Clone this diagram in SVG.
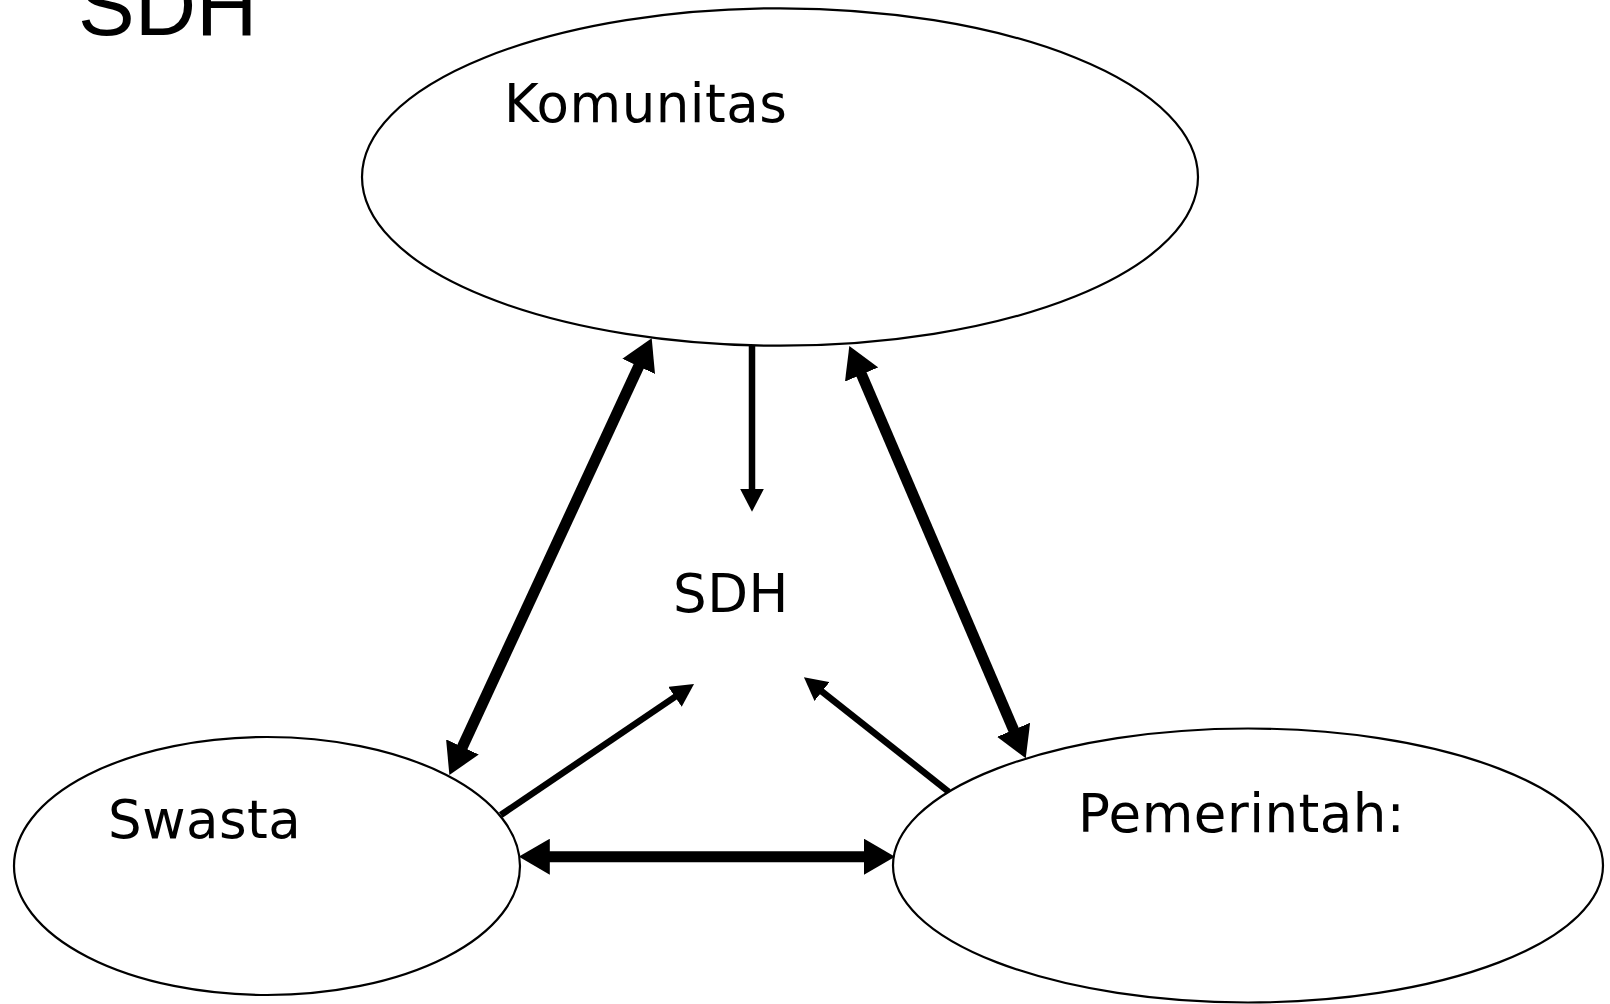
<svg xmlns="http://www.w3.org/2000/svg" width="1610" height="1004" viewBox="0 0 1610 1004">
  <style>
    .node { fill: #ffffff; stroke: #000000; stroke-width: 2.2; }
    .label { font-family: "DejaVu Sans", Verdana, sans-serif; font-size: 53px; letter-spacing: 0.5px; fill: #000000; }
    .title { font-family: "Liberation Sans", Arial, sans-serif; font-size: 85px; fill: #000000; }
    .thick { stroke: #000000; stroke-width: 11; fill: none; }
    .thin { stroke: #000000; stroke-width: 6.5; fill: none; }
  </style>
  <defs>
    <marker id="headThick" markerUnits="userSpaceOnUse" orient="auto-start-reverse" markerWidth="31" markerHeight="36" refX="11" refY="18" viewBox="0 0 31 36">
      <path d="M0,0 L31,18 L0,36 Z" fill="#000000"/>
    </marker>
    <marker id="headThin" markerUnits="userSpaceOnUse" orient="auto-start-reverse" markerWidth="23" markerHeight="24" refX="8" refY="12" viewBox="0 0 23 24">
      <path d="M0,0 L23,12 L0,24 Z" fill="#000000"/>
    </marker>
  </defs>
  <rect x="0" y="0" width="1610" height="1004" fill="#ffffff"/>
  <text class="title" x="78" y="35">SDH</text>

  <g id="komunitas">
    <ellipse class="node" cx="780" cy="177" rx="418" ry="168.7"/>
    <text class="label" x="504" y="121.7">Komunitas</text>
  </g>
  <g id="swasta">
    <ellipse class="node" cx="267" cy="866" rx="253" ry="129"/>
    <text class="label" x="108" y="838">Swasta</text>
  </g>
  <g id="pemerintah">
    <ellipse class="node" cx="1248" cy="865.5" rx="355" ry="137"/>
    <text class="label" x="1078" y="832">Pemerintah:</text>
  </g>
  <g id="sdh">
    <text class="label" x="673" y="612.3">SDH</text>
  </g>

  <g id="connectors">
    <line class="thick" x1="643.3" y1="356.4" x2="457.8" y2="756.9" marker-start="url(#headThick)" marker-end="url(#headThick)"/>
    <line class="thick" x1="857.2" y1="364.4" x2="1017.9" y2="739.9" marker-start="url(#headThick)" marker-end="url(#headThick)"/>
    <line class="thick" x1="538.8" y1="856.7" x2="875" y2="856.7" marker-start="url(#headThick)" marker-end="url(#headThick)"/>
    <line class="thin" x1="752" y1="346" x2="752" y2="496.7" marker-end="url(#headThin)"/>
    <line class="thin" x1="500.8" y1="815" x2="681.6" y2="692.4" marker-end="url(#headThin)"/>
    <line class="thin" x1="948.6" y1="791.7" x2="815.7" y2="686.6" marker-end="url(#headThin)"/>
  </g>
</svg>
